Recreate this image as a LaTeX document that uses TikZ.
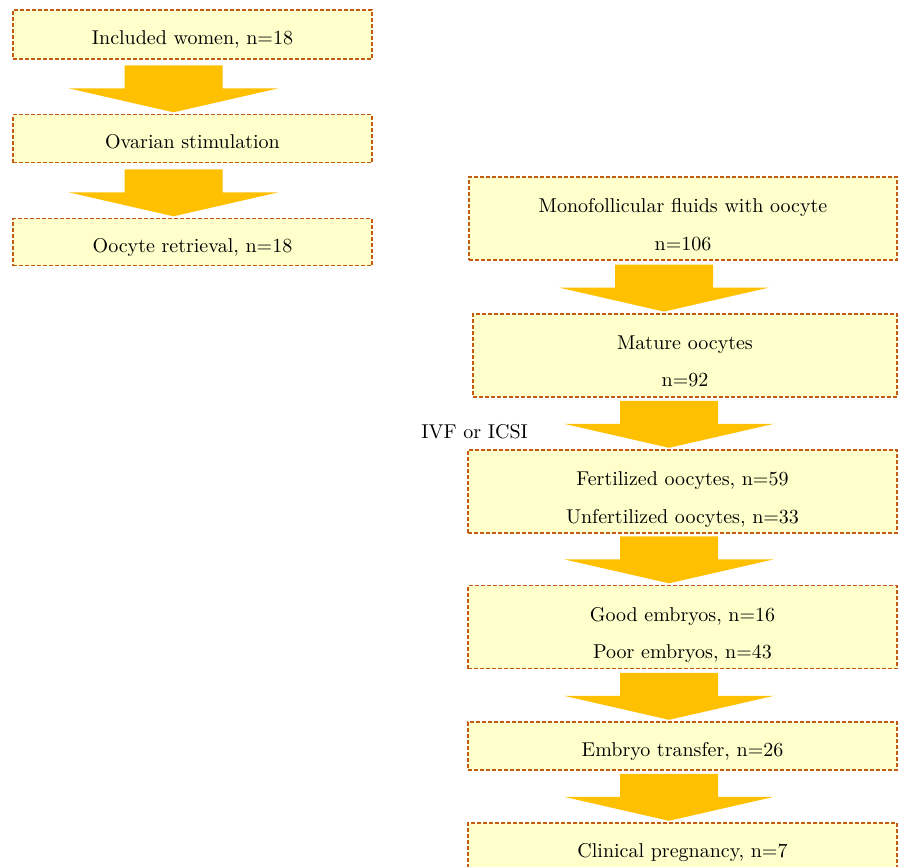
\documentclass[tikz,border=0pt]{standalone}
\usepackage{tikz}
\usetikzlibrary{calc}

\definecolor{boxfill}{RGB}{255,255,204}
\definecolor{boxline}{RGB}{197,90,17}
\definecolor{arrowfill}{RGB}{255,192,0}

% two lines of text in one box, baseline on the first line
\newcommand{\twolines}[2]{\begin{tabular}[t]{@{}c@{}}#1\\[6.75pt]#2\end{tabular}}

% wide block arrow: from, to, shift of the arrow axis
\newcommand{\flowarrow}[3]{%
    \coordinate (ax) at ($(#1.south)+(#3,0)$);
    \coordinate (tip) at ($(ax |- #2.north)+(0,-1.5)$);
    \coordinate (base) at ($(tip)+(0,-24)$);
    \fill[arrowfill] ($(base)+(-49,-23)$) -- ($(base)+(49,-23)$)
        -- ($(base)+(49,0)$) -- ($(base)+(105,0)$) -- (tip)
        -- ($(base)+(-105,0)$) -- ($(base)+(-49,0)$) -- cycle;
}

\begin{document}
\begin{tikzpicture}[
            x = 0.5pt, y = -0.5pt, % one unit per pixel, y down
            font = \normalsize
        ]

        \tikzstyle{stagebox}=[
            draw = boxline,
            fill = boxfill,
            line width = 0.7pt,
            dash pattern = on 2pt off 1pt,
            rectangle,
            inner sep = 0pt,
            text height = 12pt,
            text depth = 2pt
        ]
        \tikzstyle{tallbox}=[
            stagebox,
            text height = 10pt,
            text depth = 16pt,
            minimum height = 41.5pt
        ]

        \useasboundingbox (0,0) rectangle (901,867);

        % left column
        \node[stagebox, minimum width=179.5pt, minimum height=24.5pt] (women) at (192.5,34.5) {Included women, n=18};
        \node[stagebox, minimum width=179.5pt, minimum height=24pt] (stim) at (192.5,138.5) {Ovarian stimulation};
        \node[stagebox, minimum width=179.5pt, minimum height=23.5pt] (retr) at (192.5,242) {Oocyte retrieval, n=18};

        % right column
        \node[tallbox, minimum width=214pt] (fluid) at (683,218.5) {\twolines{Monofollicular fluids with oocyte}{n=106}};
        \node[tallbox, minimum width=212pt] (mature) at (685,355.3) {\twolines{Mature oocytes}{n=92}};
        \node[tallbox, minimum width=214.5pt] (fert) at (682.5,491.5) {\twolines{Fertilized oocytes, n=59}{Unfertilized oocytes, n=33}};
        \node[tallbox, minimum width=214.5pt] (embryo) at (682.5,627) {\twolines{Good embryos, n=16}{Poor embryos, n=43}};
        \node[stagebox, minimum width=214.5pt, minimum height=24pt] (transfer) at (682.5,746) {Embryo transfer, n=26};
        \node[stagebox, minimum width=214.5pt, minimum height=24.5pt] (preg) at (682.5,847.5) {Clinical pregnancy, n=7};

        \node[anchor=base west, inner sep=0pt] (ivf) at (421,438) {IVF or ICSI};

        \flowarrow{women}{stim}{-19}
        \flowarrow{stim}{retr}{-19}
        \flowarrow{fluid}{mature}{-19}
        \flowarrow{mature}{fert}{-16}
        \flowarrow{fert}{embryo}{-13.5}
        \flowarrow{embryo}{transfer}{-13.5}
        \flowarrow{transfer}{preg}{-13.5}

  \end{tikzpicture}
\end{document}
